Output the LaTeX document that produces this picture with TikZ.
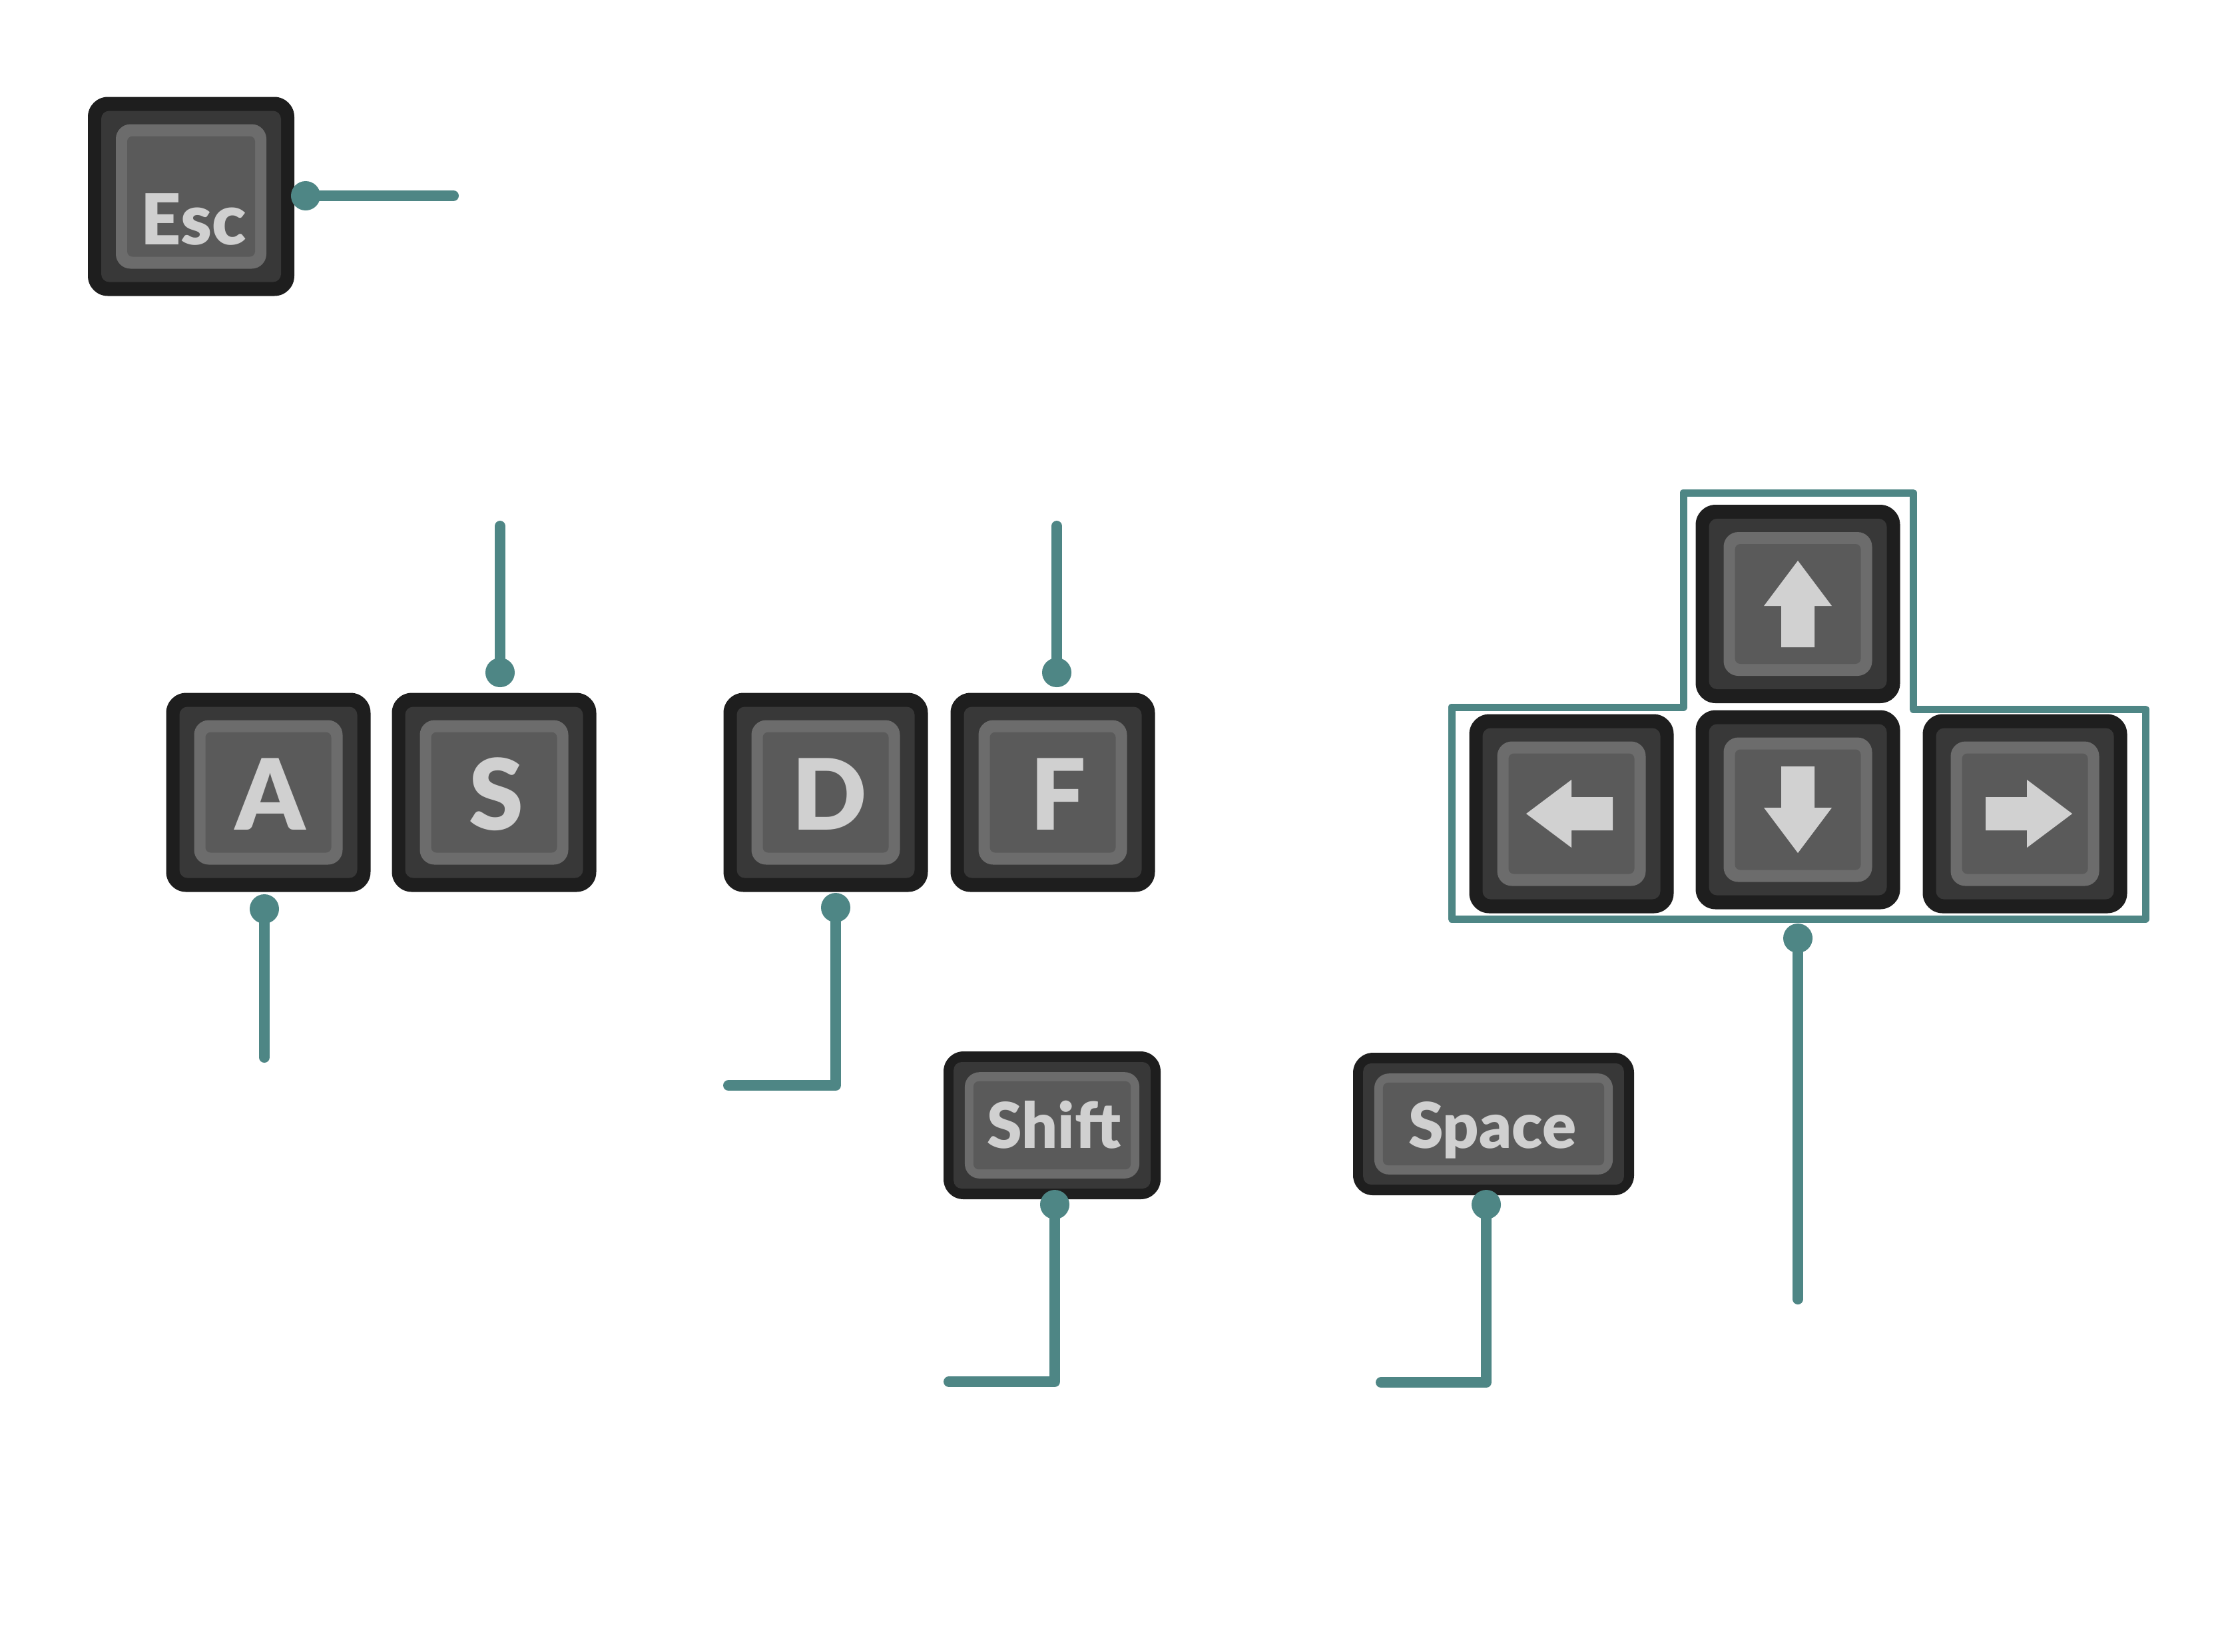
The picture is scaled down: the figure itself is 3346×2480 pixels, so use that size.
\documentclass[tikz,border=0pt]{standalone}
\usepackage{fontspec}
\setmainfont{Lato}[BoldFont={Lato Black}]
\usetikzlibrary{positioning}
\definecolor{CapEdge}{HTML}{1E1E1E}
\definecolor{CapWall}{HTML}{383838}
\definecolor{CapRing}{HTML}{6C6C6C}
\definecolor{CapFace}{HTML}{5A5A5A}
\definecolor{CapInk}{HTML}{D0D0D0}
\definecolor{WireTeal}{HTML}{4E8685}
\tikzset{
  capedge/.style={rectangle, fill=CapEdge, rounded corners=0.3cm, inner sep=0pt},
  capwall/.style={rectangle, fill=CapWall, rounded corners=0.12cm, inner sep=0pt},
  capring/.style={rectangle, fill=CapRing, rounded corners=0.22cm, inner sep=0pt},
  capface/.style={rectangle, fill=CapFace, rounded corners=0.08cm, inner sep=0pt},
  captext/.style={text=CapInk, inner sep=0pt, anchor=base},
  capglyph/.style={fill=CapInk!97!white},
  wire/.style={draw=WireTeal, line width=0.16cm, line cap=round, line join=round},
  wiredot/.style={circle, fill=WireTeal, minimum size=0.44cm, inner sep=0pt},
  keyframe/.style={draw=WireTeal, line width=0.11cm, line join=round}
}
% name, centre x, centre y, width, height; optional: how deep the rims go
\newcommand{\keycap}[6][1]{%
  \node[capedge, minimum width=#5*0.01cm, minimum height=#6*0.01cm] (#2) at (#3,#4) {};
  \node[capwall, minimum width=(#5-40*#1)*0.01cm, minimum height=(#6-42*#1)*0.01cm] (#2wall) at (#3,#4) {};
  \node[capring, minimum width=(#5-84*#1)*0.01cm, minimum height=(#6-82*#1)*0.01cm] (#2ring) at (#3,#4) {};
  \node[capface, minimum width=(#5-118*#1)*0.01cm, minimum height=(#6-118*#1)*0.01cm] (#2face) at (#3,#4) {};
}
\newcommand{\capsize}[1]{\fontsize{#1}{#1}\selectfont\bfseries}
\begin{document}
\begin{tikzpicture}[x=0.01cm, y=-0.01cm]
  \useasboundingbox (0,0) rectangle (3346,2480);

  % keys
  \keycap{keyEsc}{287}{295}{310}{299}
  \keycap{keyA}{403}{1190}{307}{299}
  \keycap{keyS}{742}{1190}{307}{299}
  \keycap{keyD}{1240}{1190}{307}{299}
  \keycap{keyF}{1581}{1190}{307}{299}
  \keycap{keyUp}{2700}{907}{307}{298}
  \keycap{keyLeft}{2360}{1222}{307}{299}
  \keycap{keyDown}{2700}{1216}{307}{299}
  \keycap{keyRight}{3041}{1222}{307}{299}
  \keycap[0.76]{keyShift}{1580}{1690}{326}{222}
  \keycap[0.76]{keySpace}{2243}{1688}{422}{214}

  % labels
  \node[captext, font=\capsize{30}] (textEsc) at (291,367) {Esc};
  \node[captext, font=\capsize{42}] (textA) at (406,1246) {A};
  \node[captext, font=\capsize{42}] (textS) at (745,1246) {S};
  \node[captext, font=\capsize{42}] (textD) at (1246,1246) {D};
  \node[captext, font=\capsize{42}] (textF) at (1589,1246) {F};
  \node[captext, font=\capsize{27}] (textShift) at (1583,1724) {Shift};
  \node[captext, font=\capsize{27}] (textSpace) at (2241,1724) {Space};

  % arrow glyphs
  \foreach \keyname/\turn/\nudge in {keyUp/0/0, keyLeft/90/-3, keyDown/180/0, keyRight/-90/6} {
    \fill[capglyph, shift={(\keyname.center)}, xshift=\nudge*0.01cm, rotate=\turn]
      (0,-65) -- (51,3) -- (25,3) -- (25,65) -- (-25,65) -- (-25,3) -- (-51,3) -- cycle;
  }

  % outline round the arrow keys
  \draw[keyframe] (2180,1380) -- (2180,1062) -- (2528,1062) -- (2528,740) -- (2873,740)
    -- (2873,1065) -- (3222,1065) -- (3222,1380) -- cycle;

  % wires
  \coordinate (endEsc) at (681,294);
  \coordinate (endS) at (751,790);
  \coordinate (endF) at (1587,790);
  \coordinate (endA) at (397,1588);
  \coordinate (endD) at (1094,1630);
  \coordinate (endShift) at (1425,2075);
  \coordinate (endSpace) at (2074,2076);
  \coordinate (endArrows) at (2700,1951);

  \node[wiredot] (dotEsc) at (459,294) {};
  \node[wiredot] (dotS) at (751,1010) {};
  \node[wiredot] (dotF) at (1587,1010) {};
  \node[wiredot] (dotA) at (397,1365) {};
  \node[wiredot] (dotD) at (1255,1363) {};
  \node[wiredot] (dotShift) at (1584,1809) {};
  \node[wiredot] (dotSpace) at (2232,1809) {};
  \node[wiredot] (dotArrows) at (2700,1409) {};

  \draw[wire] (dotEsc.center) -- (endEsc);
  \draw[wire] (dotS.center) -- (endS);
  \draw[wire] (dotF.center) -- (endF);
  \draw[wire] (dotA.center) -- (endA);
  \draw[wire] (dotD.center) |- (endD);
  \draw[wire] (dotShift.center) |- (endShift);
  \draw[wire] (dotSpace.center) |- (endSpace);
  \draw[wire] (dotArrows.center) -- (endArrows);
\end{tikzpicture}
\end{document}
